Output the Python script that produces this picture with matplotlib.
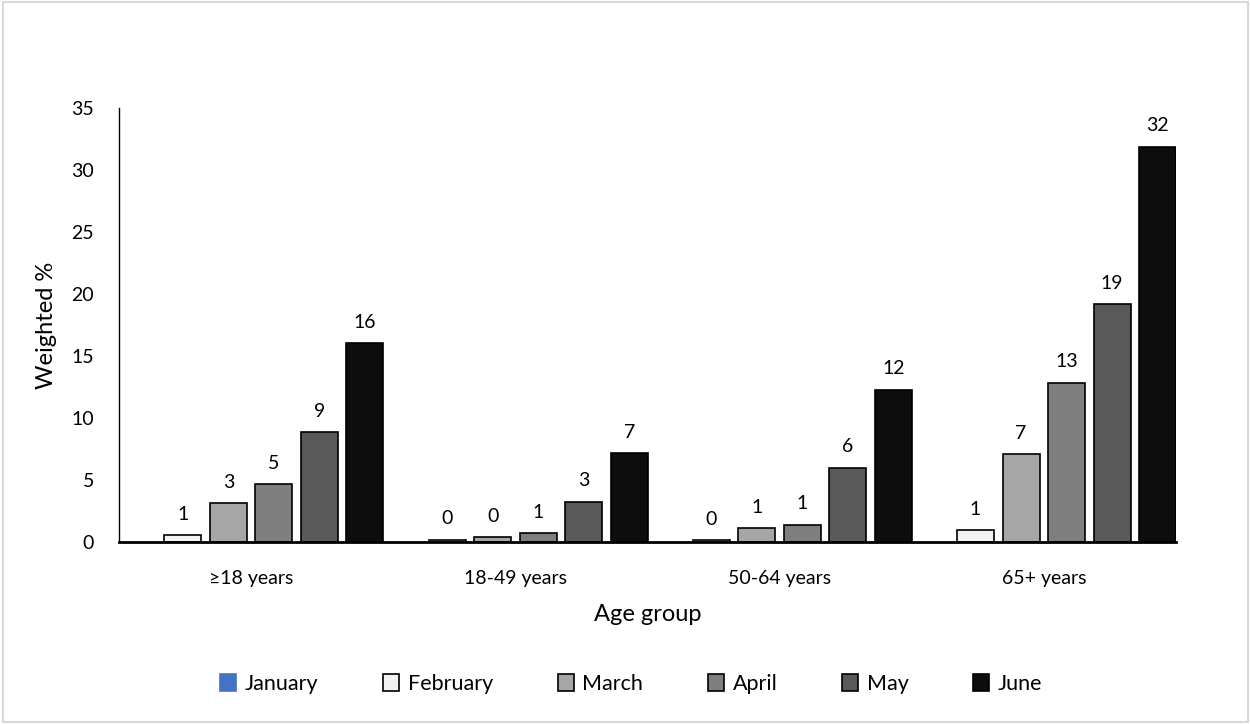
import numpy as np
import matplotlib.pyplot as plt
from matplotlib.patches import Rectangle

plt.rcParams['font.family'] = ['Lato', 'DejaVu Sans']

groups = ['≥18 years', '18-49 years', '50-64 years', '65+ years']
months = ['January', 'February', 'March', 'April', 'May', 'June']
january = [np.nan, np.nan, np.nan, np.nan]
february = [0.6, 0.24, 0.2, 1.0]
march = [3.15, 0.43, 1.13, 7.1]
april = [4.7, 0.75, 1.42, 12.85]
may = [8.9, 3.27, 6.03, 19.2]
june = [16.05, 7.2, 12.3, 31.9]
colors = ['#4472C4', '#F2F2F2', '#A6A6A6', '#7F7F7F', '#595959', '#0D0D0D']

series = [january, february, march, april, may, june]

fig = plt.figure(figsize=(12.5, 7.24), dpi=100)
ax = fig.add_axes([0.0952, 0.2507, 0.8456, 0.6001])

x = np.arange(len(groups))
step = 0.1723
width = 0.14
for i, (vals, name, col) in enumerate(zip(series, months, colors)):
    edge = col if name == 'January' else 'black'
    bars = ax.bar(x + (i - 2.5) * step, vals, width, color=col, edgecolor=edge,
                  linewidth=1.2, label=name)
    if name != 'January':
        ax.bar_label(bars, fmt='%.0f', padding=9, fontsize=14)

ax.set_xlim(-0.5, 3.5)
ax.set_ylim(0, 35)
ax.set_yticks(range(0, 36, 5))
ax.set_xticks(x)
ax.set_xticklabels(groups)
ax.tick_params(axis='both', length=0, labelsize=14)
ax.tick_params(axis='y', pad=18)
ax.tick_params(axis='x', pad=20)
ax.spines[['top', 'right']].set_visible(False)
ax.spines['left'].set_linewidth(1.0)
ax.spines['bottom'].set_linewidth(2.0)
ax.set_xlabel('Age group', fontsize=17, labelpad=12)
ax.set_ylabel('Weighted %', fontsize=17, labelpad=10)

ax.legend(loc='center', bbox_to_anchor=(0.505, 0.055), bbox_transform=fig.transFigure,
          ncol=6, frameon=False, fontsize=15.5, handlelength=0.75, handleheight=0.85,
          handletextpad=0.4, columnspacing=3.0)

fig.patches.append(Rectangle((0.002, 0.003), 0.996, 0.994, transform=fig.transFigure,
                             fill=False, edgecolor='#D9D9D9', linewidth=1.5))

fig.savefig('out.png', dpi=100)
